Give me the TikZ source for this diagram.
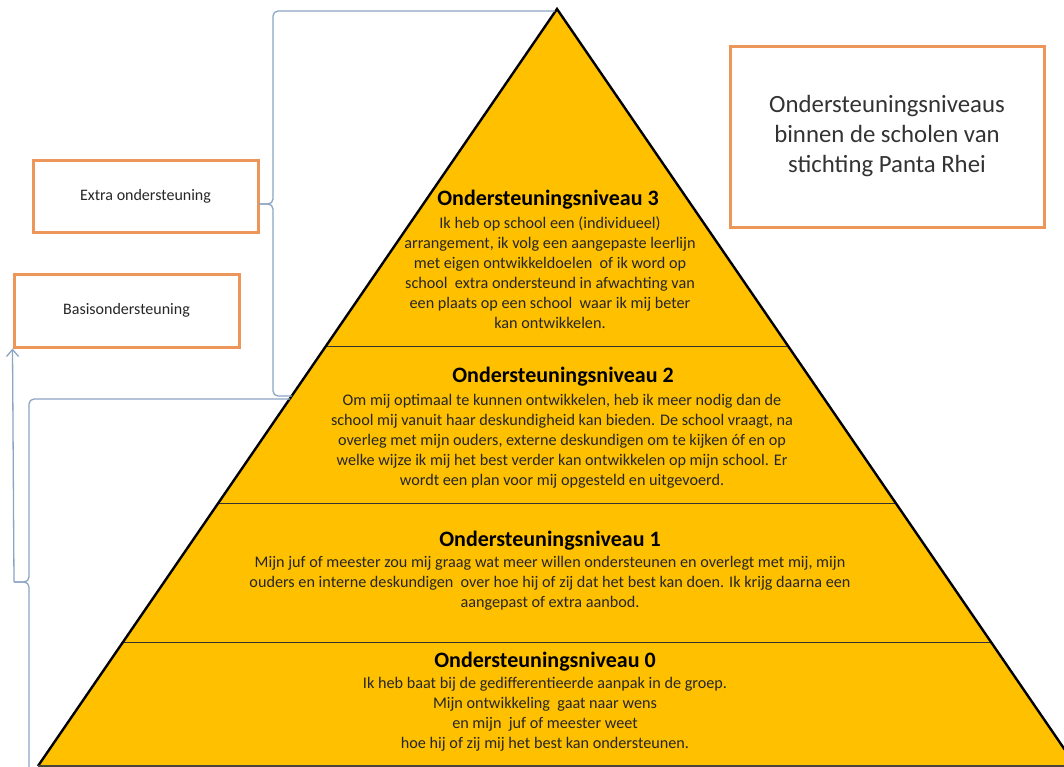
\documentclass[tikz,border=0pt]{standalone}
\usepackage{fontspec}
\setmainfont{Carlito}
\usetikzlibrary{arrows.meta,calc}
\definecolor{gold}{RGB}{255,192,0}
\definecolor{oborder}{RGB}{237,150,90}
\definecolor{bracecol}{RGB}{140,165,195}
\begin{document}
\begin{tikzpicture}[x=1pt,y=-1pt,
  lvltitle/.style={font=\fontsize{22}{26}\selectfont\bfseries, text=black, inner sep=0pt},
  lvlbody/.style={font=\fontsize{16.2}{20}\selectfont, align=center, text=black!85, inner sep=0pt},
  obox/.style={draw=oborder, line width=3pt, fill=white, inner sep=0pt},
  bracestyle/.style={draw=bracecol, line width=1.3pt, rounded corners=5pt},
  divider/.style={draw=black!80, line width=1pt}]
\useasboundingbox (0,0) rectangle (1064,766);
\clip (0,0) rectangle (1064,766);
% pyramid
\coordinate (apex) at (557,9);
\coordinate (bl) at (38,766);
\coordinate (br) at (1076,766);
\fill[gold] (apex) -- (bl) -- (br) -- cycle;
\draw[divider] (326,346) -- (788,346);
\draw[divider] (218,503) -- (896,503);
\draw[divider] (123,642) -- (991,642);
\draw[line width=2.4pt, line join=miter] (bl) -- (apex) -- (br);
\draw[black!70!yellow!60!black, line width=1.5pt] (bl) -- (br);
% level texts
\node[lvltitle] (t3) at (548,200) {Ondersteuningsniveau 3};
\node[lvlbody] (b3) at (550,273) {Ik heb op school een (individueel)\\arrangement, ik volg een aangepaste leerlijn\\met eigen ontwikkeldoelen\ \ of ik word op\\school\ \ extra ondersteund in afwachting van\\een plaats op een school\ \ waar ik mij beter\\kan ontwikkelen.};
\node[lvltitle] (t2) at (563,377) {Ondersteuningsniveau 2};
\node[lvlbody] (b2) at (562,441.5) {Om mij optimaal te kunnen ontwikkelen, heb ik meer nodig dan de\\school mij vanuit haar deskundigheid kan bieden. De school vraagt, na\\overleg met mijn ouders, externe deskundigen om te kijken óf en op\\welke wijze ik mij het best verder kan ontwikkelen op mijn school. Er\\wordt een plan voor mij opgesteld en uitgevoerd.};
\node[lvltitle] (t1) at (550,541) {Ondersteuningsniveau 1};
\node[lvlbody] (b1) at (550,583.5) {Mijn juf of meester zou mij graag wat meer willen ondersteunen en overlegt met mij, mijn\\ouders en interne deskundigen\ \ over hoe hij of zij dat het best kan doen. Ik krijg daarna een\\aangepast of extra aanbod.};
\node[lvltitle] (t0) at (545,662) {Ondersteuningsniveau 0};
\node[lvlbody] (b0) at (545,714.5) {Ik heb baat bij de gedifferentieerde aanpak in de groep.\\Mijn ontwikkeling\ \ gaat naar wens\\en mijn\ \ juf of meester weet\\hoe hij of zij mij het best kan ondersteunen.};
% boxes
\node[obox, minimum width=314pt, minimum height=181pt, align=center,
  font=\fontsize{24.8}{30}\selectfont, text=black!80] (ttl) at (887,136.5)
  {Ondersteuningsniveaus\\binnen de scholen van\\stichting Panta Rhei};
\node[obox, minimum width=225pt, minimum height=72pt, font=\fontsize{16}{18}\selectfont, text=black!85] (extra) at (145.5,196) {Extra ondersteuning};
\node[obox, minimum width=225pt, minimum height=73pt, font=\fontsize{16}{18}\selectfont, text=black!85] (basis) at (126.5,310.5) {Basisondersteuning};
% braces
\coordinate (tipA) at (259,204);
\coordinate (tipB) at (14,582);
\draw[bracestyle] (555,11) -- (273,11) -- (273,204) -- (tipA);
\draw[bracestyle] (tipA) -- (273,204) -- (273,396) -- (292,396);
\draw[bracestyle] (290,399) -- (29,399) -- (29,582) -- (tipB);
\draw[bracestyle] (tipB) -- (29,582) -- (29,775);
\draw[draw=bracecol, line width=1.3pt, -{Straight Barb[length=7pt,width=12pt]}] (tipB) -- (basis.south west);
\end{tikzpicture}
\end{document}
